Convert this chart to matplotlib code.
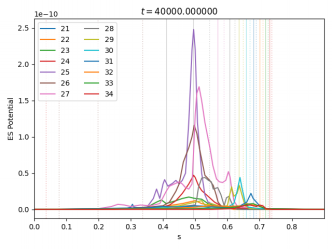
import numpy as np
import matplotlib
matplotlib.use("Agg")
import matplotlib.pyplot as plt

labels = ["21", "22", "23", "24", "25", "26", "27", "28", "29", "30", "31", "32", "33", "34"]

s21 = [0, 0.2, 0.28, 0.3, 0.305, 0.31, 0.33, 0.36, 0.4, 0.45, 0.5, 0.55, 0.6, 0.65, 0.9]
v21 = [0, 0, 0.01, 0.03, 0.07, 0.03, 0.02, 0.03, 0.04, 0.03, 0.05, 0.02, 0.03, 0, 0]
s22 = [0, 0.25, 0.35, 0.4, 0.43, 0.46, 0.48, 0.5, 0.52, 0.55, 0.58, 0.6, 0.62, 0.9]
v22 = [0, 0, 0.02, 0.04, 0.06, 0.08, 0.1, 0.12, 0.08, 0.05, 0.04, 0.02, 0, 0]
s23 = [0, 0.3, 0.35, 0.38, 0.395, 0.41, 0.44, 0.46, 0.48, 0.5, 0.52, 0.54, 0.56, 0.6, 0.65, 0.9]
v23 = [0, 0.01, 0.03, 0.1, 0.13, 0.08, 0.12, 0.15, 0.17, 0.15, 0.14, 0.08, 0.05, 0.02, 0, 0]
s24 = [0, 0.35, 0.4, 0.42, 0.44, 0.46, 0.48, 0.49, 0.495, 0.5, 0.51, 0.52, 0.54, 0.56, 0.58, 0.6, 0.9]
v24 = [0, 0.01, 0.03, 0.06, 0.12, 0.22, 0.35, 0.43, 0.47, 0.44, 0.33, 0.26, 0.18, 0.1, 0.05, 0.02, 0]
s25 = [0, 0.3, 0.35, 0.37, 0.38, 0.39, 0.40, 0.405, 0.415, 0.43, 0.44, 0.45, 0.46, 0.47, 0.48,
       0.49, 0.495, 0.50, 0.507, 0.52, 0.53, 0.54, 0.55, 0.57, 0.6, 0.65, 0.9]
v25 = [0, 0.01, 0.03, 0.15, 0.28, 0.15, 0.35, 0.41, 0.32, 0.36, 0.4, 0.35, 0.4, 0.5, 1.2,
       2.2, 2.48, 2.2, 1.2, 0.5, 0.2, 0.1, 0.08, 0.04, 0.02, 0, 0]
s26 = [0, 0.25, 0.35, 0.4, 0.42, 0.44, 0.45, 0.463, 0.48, 0.49, 0.497, 0.505, 0.515, 0.53,
       0.545, 0.556, 0.565, 0.571, 0.58, 0.6, 0.65, 0.9]
v26 = [0, 0.01, 0.03, 0.05, 0.1, 0.25, 0.35, 0.65, 0.85, 1.0, 1.16, 1.05, 0.8, 0.47,
       0.4, 0.33, 0.2, 0.1, 0.05, 0.03, 0, 0]
s27 = [0, 0.2, 0.24, 0.26, 0.28, 0.3, 0.33, 0.36, 0.39, 0.41, 0.42, 0.43, 0.45, 0.46, 0.47,
       0.48, 0.49, 0.495, 0.50, 0.505, 0.512, 0.52, 0.53, 0.546, 0.555, 0.566, 0.575, 0.585,
       0.595, 0.603, 0.608, 0.613, 0.62, 0.63, 0.65, 0.7, 0.9]
v27 = [0, 0.01, 0.04, 0.07, 0.06, 0.04, 0.06, 0.05, 0.08, 0.25, 0.32, 0.34, 0.38, 0.35, 0.3,
       0.28, 0.35, 0.8, 1.3, 1.6, 1.69, 1.5, 1.2, 0.84, 0.6, 0.42, 0.38, 0.37,
       0.4, 0.52, 0.45, 0.29, 0.12, 0.05, 0.03, 0.01, 0]
s28 = [0, 0.3, 0.4, 0.45, 0.5, 0.505, 0.51, 0.52, 0.53, 0.541, 0.55, 0.556, 0.57, 0.58, 0.59,
       0.597, 0.605, 0.61, 0.62, 0.63, 0.9]
v28 = [0, 0.01, 0.03, 0.04, 0.06, 0.15, 0.3, 0.43, 0.44, 0.40, 0.38, 0.28, 0.3, 0.2, 0.05,
       0.16, 0.18, 0.12, 0.03, 0, 0]
s29 = [0, 0.35, 0.4, 0.45, 0.48, 0.5, 0.52, 0.53, 0.55, 0.58, 0.6, 0.607, 0.613, 0.62, 0.63,
       0.637, 0.645, 0.655, 0.67, 0.9]
v29 = [0, 0.01, 0.03, 0.05, 0.08, 0.1, 0.12, 0.06, 0.08, 0.04, 0.05, 0.2, 0.31, 0.18, 0.22,
       0.33, 0.2, 0.05, 0.01, 0]
s30 = [0, 0.4, 0.45, 0.5, 0.55, 0.6, 0.62, 0.63, 0.639, 0.645, 0.655, 0.665, 0.7, 0.9]
v30 = [0, 0.02, 0.04, 0.03, 0.04, 0.03, 0.08, 0.25, 0.44, 0.3, 0.1, 0.03, 0.01, 0]
s31 = [0, 0.35, 0.4, 0.45, 0.5, 0.55, 0.6, 0.64, 0.66, 0.673, 0.68, 0.69, 0.7, 0.71, 0.72, 0.9]
v31 = [0, 0.02, 0.04, 0.03, 0.05, 0.04, 0.03, 0.05, 0.1, 0.22, 0.15, 0.1, 0.05, 0.02, 0, 0]
s32 = [0, 0.4, 0.5, 0.55, 0.6, 0.65, 0.66, 0.68, 0.7, 0.71, 0.72, 0.9]
v32 = [0, 0.01, 0.03, 0.05, 0.04, 0.05, 0.08, 0.06, 0.05, 0.03, 0, 0]
s33 = [0, 0.5, 0.6, 0.64, 0.66, 0.68, 0.7, 0.72, 0.9]
v33 = [0, 0.01, 0.02, 0.04, 0.07, 0.08, 0.04, 0.01, 0]
s34 = [0, 0.55, 0.62, 0.65, 0.67, 0.69, 0.7, 0.71, 0.72, 0.74, 0.9]
v34 = [0, 0, 0.01, 0.05, 0.06, 0.04, 0.06, 0.05, 0.01, 0, 0]

series_s = [s21, s22, s23, s24, s25, s26, s27, s28, s29, s30, s31, s32, s33, s34]
series_v = [v21, v22, v23, v24, v25, v26, v27, v28, v29, v30, v31, v32, v33, v34]

vline_pos = [0.037, 0.078, 0.199, 0.337, 0.411, 0.494, 0.544, 0.571, 0.590, 0.608, 0.623,
             0.637, 0.649, 0.659, 0.670, 0.682, 0.690, 0.701, 0.711, 0.719, 0.727, 0.732, 0.738]
vline_col = ["tab:red", "tab:brown", "tab:brown", "tab:brown", "tab:gray", "tab:gray", "tab:gray",
             "tab:pink", "tab:pink", "tab:gray", "tab:gray", "tab:olive", "tab:olive",
             "tab:cyan", "tab:cyan", "tab:blue", "tab:blue", "tab:orange", "tab:orange",
             "tab:green", "tab:green", "tab:red", "tab:red"]
vline_sty = [":", ":", ":", ":", "-", "-", ":", "-", ":", "-", ":", "-", ":", "-", ":",
             "-", ":", "-", ":", "-", ":", "-", ":"]

OUT_W, OUT_H = 332, 249

fig = plt.figure(figsize=(6.4, 4.8), dpi=100)
ax = fig.add_axes([0.103, 0.123, 0.873, 0.801])

for x, c, ls in zip(vline_pos, vline_col, vline_sty):
    ax.axvline(x, color=c, linestyle=ls, alpha=0.3, linewidth=1.2)

for s, v, lab in zip(series_s, series_v, labels):
    ax.plot(s, [val * 1e-10 for val in v], label=lab)

ax.set_xlim(0, 0.9)
ax.set_ylim(-0.124e-10, 2.625e-10)
ax.set_xticks([0.0, 0.1, 0.2, 0.3, 0.4, 0.5, 0.6, 0.7, 0.8])
ax.set_title(r"$t = 40000.000000$")
ax.set_xlabel("s")
ax.set_ylabel("ES Potential")
ax.legend(ncol=2, loc="upper left")

fig.canvas.draw()
img = np.asarray(fig.canvas.buffer_rgba())[..., :3].astype(float) / 255.0


def area_matrix(n_out, n_in):
    scale = n_in / n_out
    W = np.zeros((n_out, n_in))
    for i in range(n_out):
        a, b = i * scale, (i + 1) * scale
        for j in range(int(np.floor(a)), min(int(np.ceil(b)), n_in)):
            W[i, j] = max(0.0, min(b, j + 1) - max(a, j))
        W[i] /= W[i].sum()
    return W


Wy = area_matrix(OUT_H, img.shape[0])
Wx = area_matrix(OUT_W, img.shape[1])
small = np.einsum("ij,jkc->ikc", Wy, img)
small = np.einsum("kl,ilc->ikc", Wx, small)
plt.imsave("out.png", np.clip(small, 0, 1))
